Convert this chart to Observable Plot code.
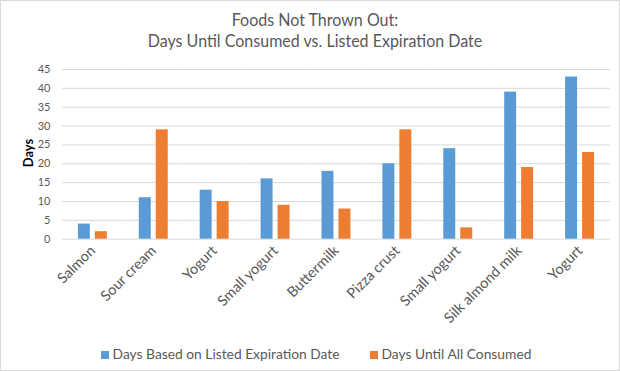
<!DOCTYPE html>
<html>
<head>
<meta charset="utf-8">
<script src="https://cdn.jsdelivr.net/npm/d3@7"></script>
<script src="https://cdn.jsdelivr.net/npm/@observablehq/plot@0.6"></script>
<style>
  html, body { margin: 0; padding: 0; background: #fff; }
  #wrap { position: relative; width: 618px; height: 369px; border: 1px solid #d9d9d9; overflow: hidden; font-family: Lato, "Open Sans", sans-serif; color: #595959; }
  #title { position: absolute; left: 5px; top: 8px; width: 618px; text-align: center; font-size: 18px; line-height: 21px; transform: scaleX(0.89); transform-origin: 50% 0; }
  #chart { position: absolute; left: -1px; top: 55px; }
  #ylab { position: absolute; left: 7px; top: 144px; transform: rotate(-90deg); transform-origin: center; font-weight: bold; color: #000; font-size: 13px; width: 40px; text-align: center; }
  #legend { position: absolute; left: 6px; top: 344px; width: 618px; display: flex; justify-content: center; gap: 30px; font-size: 13.8px; }
  #legend span.sw { display: inline-block; width: 8px; height: 8px; margin-right: 4px; vertical-align: 0px; }
</style>
</head>
<body>
<div id="wrap">
  <div id="title">Foods Not Thrown Out:<br>Days Until Consumed vs. Listed Expiration Date</div>
  <div id="ylab">Days</div>
  <div id="chart"></div>
  <div id="legend"></div>
</div>
<script>
const categories = ["Salmon", "Sour cream", "Yogurt", "Small yogurt", "Buttermilk", "Pizza crust", "Small yogurt", "Silk almond milk", "Yogurt"];
const seriesNames = ["Days Based on Listed Expiration Date", "Days Until All Consumed"];
const listedDays = [4, 11, 13, 16, 18, 20, 24, 39, 43];
const consumedDays = [2, 29, 10, 9, 8, 29, 3, 19, 23];
const yTicks = [0, 5, 10, 15, 20, 25, 30, 35, 40, 45];
const colors = ["#5B9BD5", "#ED7D31"];

const rows = [];
categories.forEach((c, i) => {
  rows.push({i, series: seriesNames[0], value: listedDays[i]});
  rows.push({i, series: seriesNames[1], value: consumedDays[i]});
});

const plot = Plot.plot({
  width: 620,
  height: 270,
  marginLeft: 61,
  marginRight: 8,
  marginTop: 13,
  marginBottom: 87,
  style: {fontFamily: "Lato, 'Open Sans', sans-serif", color: "#595959", background: "transparent"},
  fx: {domain: d3.range(categories.length), padding: 0, label: null, axis: null},
  x: {domain: seriesNames, paddingInner: 0.278, paddingOuter: 0.842, axis: null},
  y: {domain: [0, 45], axis: null},
  color: {domain: seriesNames, range: colors},
  marks: [
    Plot.gridY(yTicks, {stroke: "#d9d9d9", strokeOpacity: 1, strokeWidth: 1}),
    Plot.barY(rows, {fx: "i", x: "series", y: "value", fill: "series"}),
    Plot.axisY(yTicks, {tickSize: 0, tickPadding: 12, fontSize: 11, label: null, fill: "#595959"}),
    Plot.axisFx({anchor: "bottom", tickRotate: -45, tickSize: 0, tickPadding: 9, fontSize: 14.5, label: null, tickFormat: i => categories[i], fill: "#595959"})
  ]
});
document.getElementById("chart").appendChild(plot);

const legend = document.getElementById("legend");
seriesNames.forEach((s, k) => {
  const d = document.createElement("div");
  d.innerHTML = `<span class="sw" style="background:${colors[k]}"></span>${s}`;
  legend.appendChild(d);
});
</script>
</body>
</html>
